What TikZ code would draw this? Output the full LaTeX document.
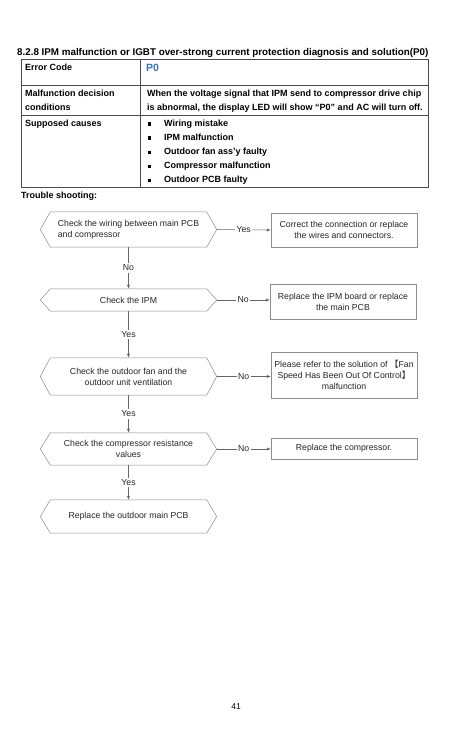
\documentclass[tikz,border=0pt]{standalone}
\usepackage{fontspec}
\setmainfont{Liberation Sans}
\newfontfamily\cjkfont{Noto Sans CJK SC}
\usetikzlibrary{arrows.meta,calc}
\newcommand\hexshape[1]{\draw[hexline] (#1.west) -- ($(#1.north west)+(10pt,0)$) -- ($(#1.north east)+(-10pt,0)$) -- (#1.east) -- ($(#1.south east)+(-10pt,0)$) -- ($(#1.south west)+(10pt,0)$) -- cycle;}
\newcommand\tblbullet{\rule{3.2pt}{3.2pt}}
\begin{document}
\begin{tikzpicture}[x=1pt,y=-1pt,
  tbl/.style={font=\bfseries\fontsize{9}{10}\selectfont, anchor=base west, inner sep=0pt},
  hexa/.style={minimum width=176pt, align=center, font=\fontsize{8.7}{11}\selectfont, inner sep=0pt, text=black!85},
  hexline/.style={draw=black!45, line width=0.5pt},
  rbox/.style={draw=black!45, line width=0.5pt, minimum width=146pt, align=center, font=\fontsize{8.7}{11}\selectfont, inner sep=0pt, text=black!85},
  conn/.style={draw=black!60, line width=0.5pt, -{Latex[length=4pt,width=3.2pt]}},
  edgelbl/.style={fill=white, font=\fontsize{8.7}{9}\selectfont, inner sep=1.5pt, text=black!85},
  tline/.style={draw=black!70, line width=0.6pt}
]
\fill[white] (0,0) rectangle (450,750);
\useasboundingbox (0,0) rectangle (450,750);

% title
\node[tbl, font=\bfseries\fontsize{9.8}{10}\selectfont] (title) at (17,55.5) {8.2.8 IPM malfunction or IGBT over-strong current protection diagnosis and solution(P0)};

% table
\draw[tline] (21,59) rectangle (428,187);
\draw[tline] (21,85) -- (428,85);
\draw[tline] (21,115) -- (428,115);
\draw[tline] (140,59) -- (140,187);

\node[tbl] (ec) at (25,70) {Error Code};
\node[tbl, font=\bfseries\fontsize{10.5}{10}\selectfont, text={rgb,255:red,60;green,110;blue,200}] (p0) at (146,71) {P0};
\node[tbl] (md1) at (25,96) {Malfunction decision};
\node[tbl] (md2) at (25,110) {conditions};
\node[tbl] (mc1) at (147,96) {When the voltage signal that IPM send to compressor drive chip};
\node[tbl] (mc2) at (147,110) {is abnormal, the display LED will show “P0” and AC will turn off.};
\node[tbl] (sc) at (25,126) {Supposed causes};
\foreach \t [count=\i from 0] in {Wiring mistake, IPM malfunction, Outdoor fan ass'y faulty, Compressor malfunction, Outdoor PCB faulty}{
  \node[tbl] (b\i) at (148,125.5+14.1*\i) {\tblbullet};
  \node[tbl] (c\i) at (164,126+14.1*\i) {\t};
}
\node[tbl] (ts) at (21,198) {Trouble shooting:};

% flowchart
\node[hexa, minimum height=35pt] (h1) at (128.5,229.5) {\begin{tabular}{@{}l@{}}Check the wiring between main PCB\\and compressor\end{tabular}};
\node[hexa, minimum height=22pt] (h2) at (128.5,300) {Check the IPM};
\node[hexa, minimum height=37pt] (h3) at (128.5,376.5) {Check the outdoor fan and the\\outdoor unit ventilation};
\node[hexa, minimum height=32pt] (h4) at (128.5,449) {Check the compressor resistance\\values};
\node[hexa, minimum height=33pt] (h5) at (128.5,516.5) {Replace the outdoor main PCB};
\foreach \h in {h1,h2,h3,h4,h5}{\hexshape{\h}}

\node[rbox, minimum height=34pt] (r1) at (344,230) {Correct the connection or replace\\the wires and connectors.};
\node[rbox, minimum height=35pt] (r2) at (343,301.5) {Replace the IPM board or replace\\the main PCB};
\node[rbox, minimum height=46pt] (r3) at (344,375) {Please refer to the solution of {\cjkfont 【}Fan\\Speed Has Been Out Of Control{\cjkfont 】}\\malfunction};
\node[rbox, minimum height=21pt] (r4) at (344,448.5) {Replace the compressor.};

\draw[conn] (h1.east) -- node[edgelbl]{Yes} (r1.west);
\draw[conn] (h2.east) -- node[edgelbl]{No} (r2.west |- h2.east);
\draw[conn] (h3.east) -- node[edgelbl]{No} (r3.west |- h3.east);
\draw[conn] (h4.east) -- node[edgelbl]{No} (r4.west |- h4.east);

\draw[conn] (h1.south) -- node[edgelbl]{No} (h2.north);
\draw[conn] (h2.south) -- node[edgelbl]{Yes} (h3.north);
\draw[conn] (h3.south) -- node[edgelbl]{Yes} (h4.north);
\draw[conn] (h4.south) -- node[edgelbl]{Yes} (h5.north);

\node[font=\fontsize{8.5}{10}\selectfont, inner sep=0pt] (pg) at (236,707) {41};
\end{tikzpicture}
\end{document}
